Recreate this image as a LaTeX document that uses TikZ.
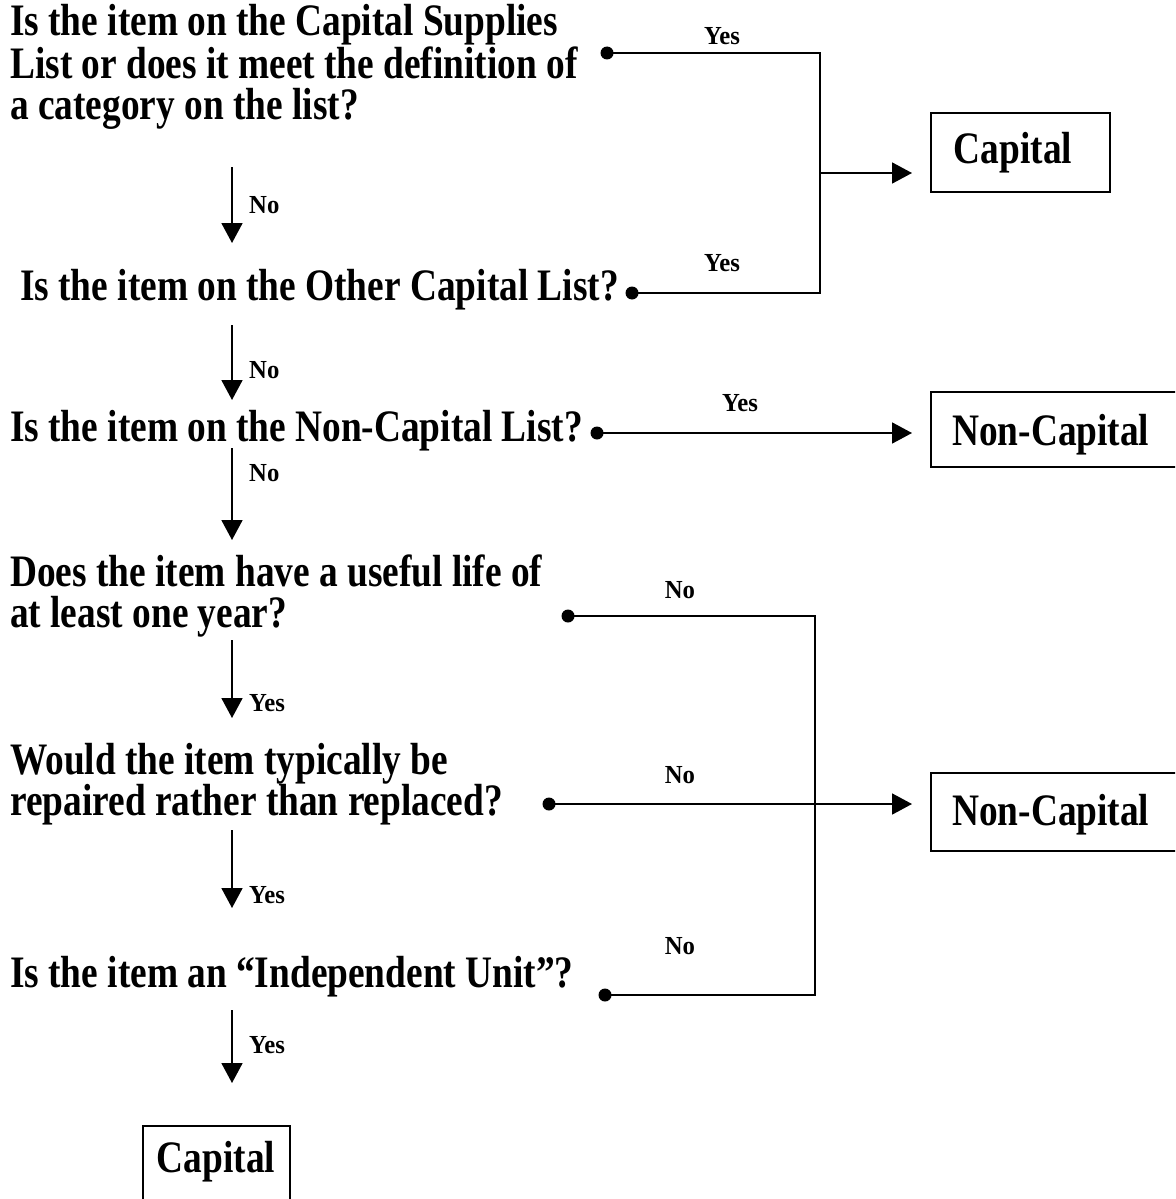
\documentclass[tikz,border=0pt]{standalone}
\usepackage{fontspec}
\setmainfont{Liberation Serif}
\newfontfamily\qfam[FakeStretch=0.83]{Liberation Serif}
\newfontfamily\lfam[FakeStretch=0.95]{Liberation Serif}
\usetikzlibrary{arrows.meta}
\begin{document}
\begin{tikzpicture}[x=1pt,y=-1pt,
  qtext/.style={anchor=base west,inner sep=0pt,align=left,
    font=\qfam\bfseries\fontsize{45}{41}\selectfont},
  btext/.style={inner sep=0pt,font=\qfam\bfseries\fontsize{45}{41}\selectfont},
  boxline/.style={line width=1.6pt},
  lab/.style={inner sep=0pt,anchor=base,font=\lfam\bfseries\fontsize{26}{28}\selectfont},
  dotnode/.style={circle,fill=black,inner sep=0pt,minimum size=13pt},
  conn/.style={line width=1.8pt},
  arr/.style={line width=1.8pt,-{Triangle[length=20pt,width=21pt]}}
]
\useasboundingbox (0,0) rectangle (1175,1199);
\begin{scope}
\clip (0,0) rectangle (1175,1199);

% questions (anchor = baseline of last line)
\node[qtext] (q1) at (10,119) {Is the item on the Capital Supplies\\List or does it meet the definition of\\a category on the list?};
\node[qtext] (q2) at (20,300) {Is the item on the Other Capital List?};
\node[qtext] (q3) at (10,441) {Is the item on the Non-Capital List?};
\node[qtext] (q4) at (10,627) {Does the item have a useful life of\\at least one year?};
\node[qtext] (q5) at (10,815) {Would the item typically be\\repaired rather than replaced?};
\node[qtext] (q6) at (10,987) {Is the item an “Independent Unit”?};

% result boxes
\draw[boxline] (931,113) rectangle (1110,192);
\node[btext,anchor=base] (cap1) at (1013,163) {Capital};
\coordinate (cap1w) at (931,173);
\draw[boxline] (931,392) rectangle (1190,467);
\node[btext,anchor=base west] (nc1) at (952,445) {Non-Capital};
\coordinate (nc1w) at (931,433);
\draw[boxline] (931,773) rectangle (1190,851);
\node[btext,anchor=base west] (nc2) at (952,825) {Non-Capital};
\coordinate (nc2w) at (931,804);
\draw[boxline] (143,1126) rectangle (290,1230);
\node[btext,anchor=base] (cap2) at (216,1172) {Capital};

% dots
\node[dotnode] (d1) at (607,53) {};
\node[dotnode] (d2) at (632,293) {};
\node[dotnode] (d3) at (597,433) {};
\node[dotnode] (d4) at (568,616) {};
\node[dotnode] (d5) at (549,804) {};
\node[dotnode] (d6) at (605,995) {};
\coordinate (j1) at (820,173);
\coordinate (j2) at (815,804);

% branches
\draw[conn] (d1.center) -| (j1) |- (d2.center);
\draw[arr,shorten >=19pt] (j1) -- (cap1w);
\draw[arr,shorten >=19pt] (d3.center) -- (nc1w);
\draw[conn] (d4.center) -| (j2) |- (d6.center);
\draw[arr,shorten >=19pt] (d5.center) -- (nc2w);

\node[lab] (y1) at (722,45) {Yes};
\node[lab] (y2) at (722,271) {Yes};
\node[lab] (y3) at (740,411) {Yes};
\node[lab] (n4) at (680,598) {No};
\node[lab] (n5) at (680,783) {No};
\node[lab] (n6) at (680,954) {No};

% down arrows
\foreach \i/\s/\e in {1/167/243,2/325/400,3/448/540,4/640/718,5/830/908,6/1010/1083}{
  \coordinate (as\i) at (232,\s);
  \coordinate (ae\i) at (232,\e);
  \draw[arr] (as\i) -- (ae\i);
}
\node[lab,anchor=base west] (dn1) at (249,213) {No};
\node[lab,anchor=base west] (dn2) at (249,378) {No};
\node[lab,anchor=base west] (dn3) at (249,481) {No};
\node[lab,anchor=base west] (dy4) at (249,711) {Yes};
\node[lab,anchor=base west] (dy5) at (249,903) {Yes};
\node[lab,anchor=base west] (dy6) at (249,1053) {Yes};
\end{scope}
\end{tikzpicture}
\end{document}
